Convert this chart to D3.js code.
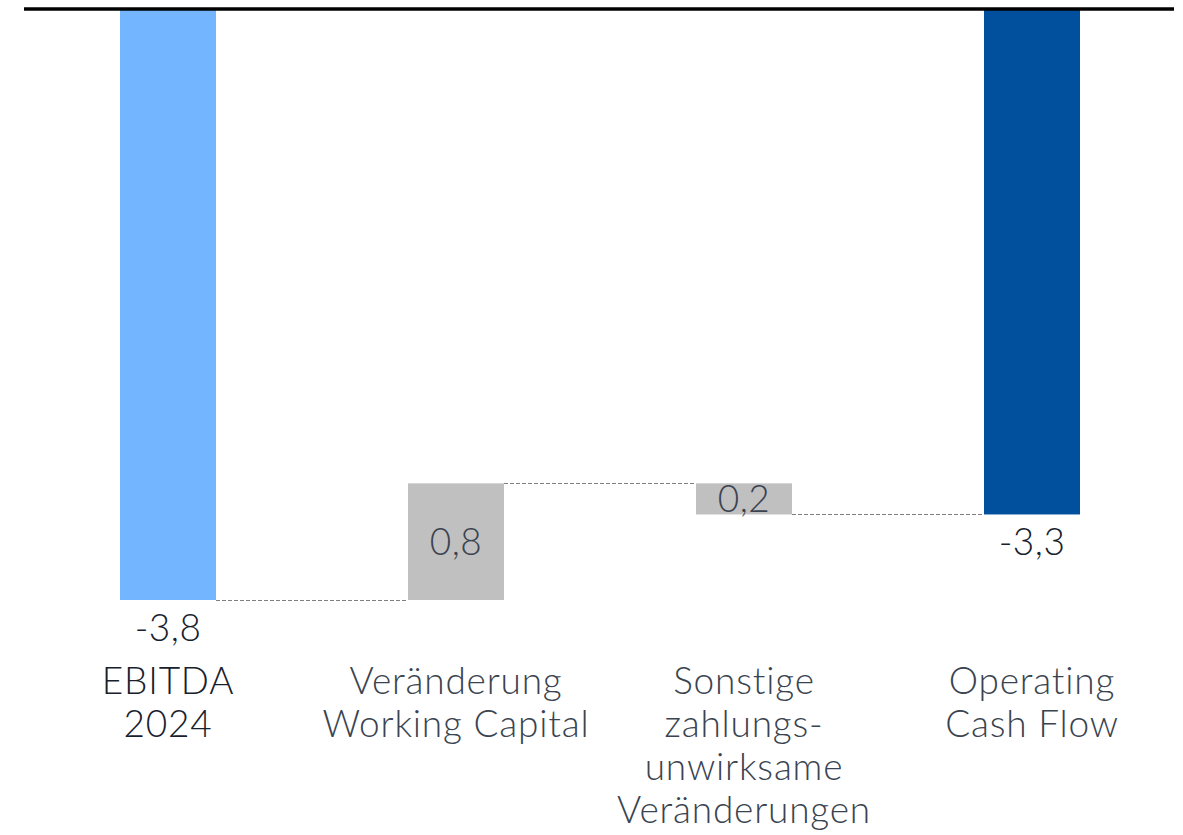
<!DOCTYPE html>
<html>
<head>
<meta charset="utf-8">
<script src="https://cdn.jsdelivr.net/npm/d3@7"></script>
<style>
  body { margin: 0; background: #fff; }
  svg { display: block; }
</style>
</head>
<body>
<div id="chart"></div>
<script>
const categories = ["EBITDA 2024", "Veränderung Working Capital", "Sonstige zahlungsunwirksame Veränderungen", "Operating Cash Flow"];
const labelLines = [["EBITDA", "2024"], ["Veränderung", "Working Capital"], ["Sonstige", "zahlungs-", "unwirksame", "Veränderungen"], ["Operating", "Cash Flow"]];
const steps = [-3.8, 0.75, -0.2, -3.25];
const kinds = ["total", "delta", "delta", "total"];
const valueLabels = ["-3,8", "0,8", "0,2", "-3,3"];

const W = 1183, H = 835;
const svg = d3.select("#chart").append("svg")
    .attr("width", W).attr("height", H);

// waterfall start/end
let run = 0;
const data = categories.map((c, i) => {
    let y0, y1;
    if (kinds[i] === "total") { y0 = 0; y1 = steps[i]; run = steps[i]; }
    else { y0 = run; y1 = run + steps[i]; run = y1; }
    return { cat: c, y0, y1, kind: kinds[i], label: valueLabels[i], lines: labelLines[i], i };
});

const x = d3.scaleBand()
    .domain(categories)
    .range([24, 1176])
    .paddingInner(2 / 3)
    .paddingOuter(1 / 3);

const y = d3.scaleLinear()
    .domain([0, -3.8])
    .range([9, 600]);

const colors = ["#73b5ff", "#c0c0c0", "#c0c0c0", "#00509e"];
const font = "Lato, 'Open Sans', sans-serif";

// bars
svg.selectAll("rect.bar")
    .data(data)
    .join("rect")
    .attr("class", "bar")
    .attr("x", d => x(d.cat))
    .attr("width", x.bandwidth())
    .attr("y", d => y(Math.max(d.y0, d.y1)))
    .attr("height", d => Math.abs(y(d.y1) - y(d.y0)))
    .attr("fill", (d, i) => colors[i]);

// connectors
svg.selectAll("line.conn")
    .data(data.slice(0, -1))
    .join("line")
    .attr("class", "conn")
    .attr("x1", d => x(d.cat) + x.bandwidth())
    .attr("x2", d => x(categories[d.i + 1]))
    .attr("y1", d => Math.round(y(d.y1)) + 0.5)
    .attr("y2", d => Math.round(y(d.y1)) + 0.5)
    .attr("stroke", "#7f7f7f")
    .attr("stroke-width", 1)
    .attr("stroke-dasharray", "4,2");

// zero line
svg.append("line")
    .attr("x1", 24).attr("x2", 1174)
    .attr("y1", y(0)).attr("y2", y(0))
    .attr("stroke", "#000")
    .attr("stroke-width", 3.5);

// value labels
svg.selectAll("text.val")
    .data(data)
    .join("text")
    .attr("class", "val")
    .attr("x", d => x(d.cat) + x.bandwidth() / 2)
    .attr("y", d => d.kind === "total"
        ? y(d.y1) + 41
        : (y(d.y0) + y(d.y1)) / 2 + 13)
    .attr("text-anchor", "middle")
    .attr("font-family", font)
    .attr("font-weight", 300)
    .attr("font-size", "37px")
    .attr("letter-spacing", "0.5px")
    .attr("fill", d => d.kind === "total" ? "#17212c" : "#3a4450")
    .text(d => d.label);

// category labels
const cat = svg.selectAll("text.cat")
    .data(data)
    .join("text")
    .attr("class", "cat")
    .attr("x", d => x(d.cat) + x.bandwidth() / 2)
    .attr("y", 694)
    .attr("text-anchor", "middle")
    .attr("font-family", font)
    .attr("font-weight", 300)
    .attr("font-size", "37px")
    .attr("letter-spacing", "0.8px")
    .attr("fill", d => d.i === 0 ? "#17212c" : "#3a4450");

cat.selectAll("tspan")
    .data(d => d.lines.map(l => ({ l, cx: x(d.cat) + x.bandwidth() / 2 })))
    .join("tspan")
    .attr("x", t => t.cx)
    .attr("dy", (t, j) => j === 0 ? 0 : 43)
    .text(t => t.l);
</script>
</body>
</html>
